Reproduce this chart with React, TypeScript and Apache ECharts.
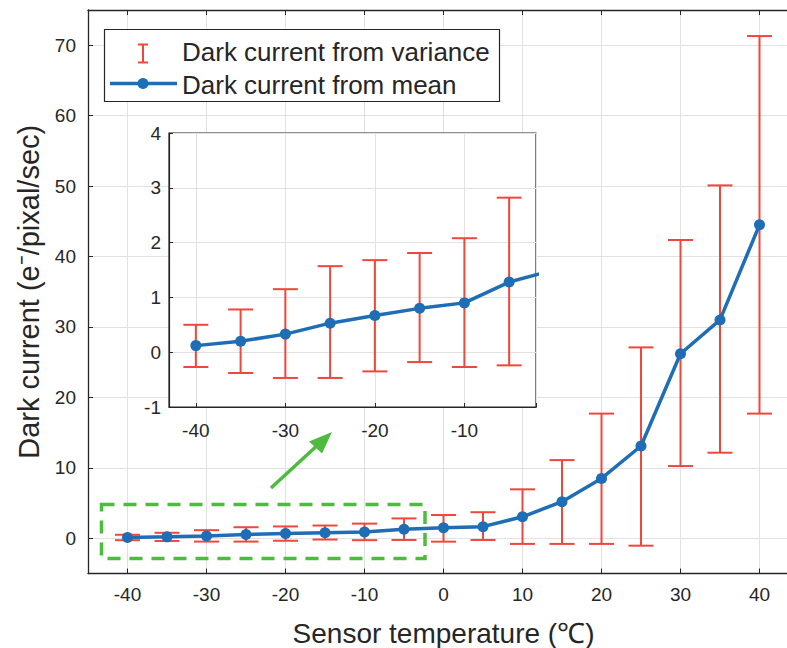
import React, { useEffect, useRef } from "react";
import * as echarts from "echarts";

const temps = [-40, -35, -30, -25, -20, -15, -10, -5, 0, 5, 10, 15, 20, 25, 30, 35, 40];
const meanCurrent = [0.12, 0.2, 0.33, 0.53, 0.67, 0.8, 0.9, 1.28, 1.5, 1.65, 3.05, 5.2, 8.5, 13.1, 26.2, 31.0, 44.5];
const upperBound = [0.5, 0.78, 1.15, 1.57, 1.68, 1.81, 2.08, 2.82, 3.3, 3.7, 6.95, 11.1, 17.7, 27.1, 42.35, 50.1, 71.3];
const lowerBound = [-0.27, -0.38, -0.47, -0.47, -0.35, -0.18, -0.27, -0.24, -0.48, -0.24, -0.8, -0.8, -0.8, -1.05, 10.25, 12.15, 17.7];
const insetCount = 8; // -40 .. -5 shown with error bars in the inset

const legendLabels = ["Dark current from variance", "Dark current from mean"];
const xTitle = "Sensor temperature (℃)";
const yTitle = "Dark current (e⁻/pixal/sec)";

const RED = "#f0473c";
const BLUE = "#1f6db4";
const GREEN = "#4dbb3d";
const TEXT = "#262626";
const GRIDC = "#e1e1e1";
const FONT = "Liberation Sans, Arial, Helvetica, sans-serif";

function errorRender(capW: number) {
  return (params: any, api: any) => {
    const x = api.value(0);
    const lo = api.value(1);
    const hi = api.value(2);
    const a = api.coord([x, hi]);
    const b = api.coord([x, lo]);
    const hw = capW / 2;
    const st = { stroke: RED, lineWidth: 2 };
    return {
      type: "group",
      children: [
        { type: "line", shape: { x1: a[0], y1: a[1], x2: b[0], y2: b[1] }, style: st },
        { type: "line", shape: { x1: a[0] - hw, y1: a[1], x2: a[0] + hw, y2: a[1] }, style: st },
        { type: "line", shape: { x1: b[0] - hw, y1: b[1], x2: b[0] + hw, y2: b[1] }, style: st },
      ],
    };
  };
}

export default function App() {
  const ref = useRef<HTMLDivElement>(null);
  useEffect(() => {
    if (!ref.current) return;
    const chart = echarts.init(ref.current, null, { renderer: "svg" });
    const errData = temps.map((t, i) => [t, lowerBound[i], upperBound[i]]);
    const lineData = temps.map((t, i) => [t, meanCurrent[i]]);
    const insetErr = errData.slice(0, insetCount);
    const insetLine: any[] = lineData.slice(0, insetCount);
    insetLine.push({ value: lineData[insetCount], symbol: "none" });

    const tickLabel = { color: TEXT, fontSize: 19, fontFamily: FONT };
    const mainAxisLine = { show: true, onZero: false, lineStyle: { color: TEXT, width: 1.3 } };

    chart.setOption({
      animation: false,
      backgroundColor: "#fff",
      grid: [
        { left: 88, top: 10, right: -12, bottom: 74.5, containLabel: false, outerBoundsMode: "none" },
        {
          left: 169, top: 133, width: 367, height: 274, show: true, outerBoundsMode: "none",
          backgroundColor: "#fff", borderColor: TEXT, borderWidth: 1.2, z: 10,
        },
      ],
      xAxis: [
        {
          type: "value", gridIndex: 0, min: -45, max: 45, splitNumber: 9,
          axisLine: mainAxisLine,
          axisTick: { show: true, inside: true, length: 5, lineStyle: { color: TEXT } },
          axisLabel: { ...tickLabel, margin: 11, showMinLabel: false, showMaxLabel: false },
          splitLine: { show: true, lineStyle: { color: GRIDC, width: 1 } },
          name: xTitle, nameLocation: "middle", nameGap: 46,
          nameTextStyle: { color: TEXT, fontSize: 28, fontFamily: FONT },
        },
        {
          type: "value", gridIndex: 0, position: "top", min: -45, max: 45, splitNumber: 9,
          axisLine: mainAxisLine,
          axisTick: { show: true, inside: true, length: 5, lineStyle: { color: TEXT } },
          axisLabel: { show: false },
          splitLine: { show: false },
        },
        {
          type: "value", gridIndex: 1, min: -43, max: -2, splitNumber: 4, z: 11,
          axisLine: { show: true, onZero: false, lineStyle: { color: TEXT, width: 1.2 } },
          axisTick: { show: true, inside: true, length: 4, lineStyle: { color: TEXT } },
          axisLabel: {
            ...tickLabel, margin: 14,
            formatter: (v: number) => (v % 10 === 0 ? String(v) : ""),
          },
          splitLine: { show: true, lineStyle: { color: GRIDC, width: 1 } },
        },
      ],
      yAxis: [
        {
          type: "value", gridIndex: 0, min: -5, max: 75, splitNumber: 8,
          axisLine: mainAxisLine,
          axisTick: { show: true, inside: true, length: 5, lineStyle: { color: TEXT } },
          axisLabel: { ...tickLabel, margin: 12, showMinLabel: false, showMaxLabel: false },
          splitLine: { show: true, lineStyle: { color: GRIDC, width: 1 } },
          name: yTitle, nameLocation: "middle", nameGap: 38,
          nameTextStyle: { color: TEXT, fontSize: 29, fontFamily: FONT },
        },
        {
          type: "value", gridIndex: 1, min: -1, max: 4, interval: 1, z: 11,
          axisLine: { show: true, onZero: false, lineStyle: { color: TEXT, width: 1.2 } },
          axisTick: { show: true, inside: true, length: 4, lineStyle: { color: TEXT } },
          axisLabel: { ...tickLabel, margin: 8 },
          splitLine: { show: true, lineStyle: { color: GRIDC, width: 1 } },
        },
      ],
      series: [
        {
          type: "custom", name: legendLabels[0], xAxisIndex: 0, yAxisIndex: 0, z: 2,
          renderItem: errorRender(25), encode: { x: 0, y: [1, 2] }, data: errData,
        },
        {
          type: "line", name: legendLabels[1], xAxisIndex: 0, yAxisIndex: 0, z: 3,
          data: lineData, symbol: "circle", symbolSize: 11, showSymbol: true,
          lineStyle: { color: BLUE, width: 3.5 }, itemStyle: { color: BLUE },
        },
        {
          type: "custom", xAxisIndex: 2, yAxisIndex: 1, z: 12,
          renderItem: errorRender(25), encode: { x: 0, y: [1, 2] }, data: insetErr,
        },
        {
          type: "line", xAxisIndex: 2, yAxisIndex: 1, z: 13, clip: true,
          data: insetLine, symbol: "circle", symbolSize: 11, showSymbol: true,
          lineStyle: { color: BLUE, width: 3.5 }, itemStyle: { color: BLUE },
        },
      ],
      graphic: [
        // zoom marker box & arrow
        {
          type: "rect", z: 15, shape: { x: 101.5, y: 504.5, width: 323.5, height: 54 },
          style: { fill: "none", stroke: GREEN, lineWidth: 3.5, lineDash: [13, 9] },
        },
        {
          type: "line", z: 15, shape: { x1: 271, y1: 488, x2: 321, y2: 442 },
          style: { stroke: GREEN, lineWidth: 3.5 },
        },
        {
          type: "polygon", z: 15,
          shape: { points: [[332, 432], [309, 441.5], [322, 453.5]] },
          style: { fill: GREEN },
        },
        // legend
        {
          type: "rect", z: 20, shape: { x: 104.5, y: 29.5, width: 395, height: 72 },
          style: { fill: "#fff", stroke: TEXT, lineWidth: 1.2 },
        },
        { type: "line", z: 21, shape: { x1: 143, y1: 44.5, x2: 143, y2: 62.5 }, style: { stroke: RED, lineWidth: 2 } },
        { type: "line", z: 21, shape: { x1: 138, y1: 44.5, x2: 148, y2: 44.5 }, style: { stroke: RED, lineWidth: 2 } },
        { type: "line", z: 21, shape: { x1: 138, y1: 62.5, x2: 148, y2: 62.5 }, style: { stroke: RED, lineWidth: 2 } },
        {
          type: "text", z: 21, x: 182, y: 52,
          style: { text: legendLabels[0], fill: TEXT, font: `26px ${FONT}`, verticalAlign: "middle" },
        },
        { type: "line", z: 21, shape: { x1: 110, y1: 83.5, x2: 177, y2: 83.5 }, style: { stroke: BLUE, lineWidth: 3.5 } },
        { type: "circle", z: 22, shape: { cx: 143, cy: 83.5, r: 5.5 }, style: { fill: BLUE } },
        {
          type: "text", z: 21, x: 182, y: 85,
          style: { text: legendLabels[1], fill: TEXT, font: `26px ${FONT}`, verticalAlign: "middle" },
        },
      ],
    });
    return () => chart.dispose();
  }, []);
  return (
    <div
      ref={ref}
      style={{ position: "fixed", left: 0, top: 0, width: 787, height: 648, background: "#fff" }}
    />
  );
}
